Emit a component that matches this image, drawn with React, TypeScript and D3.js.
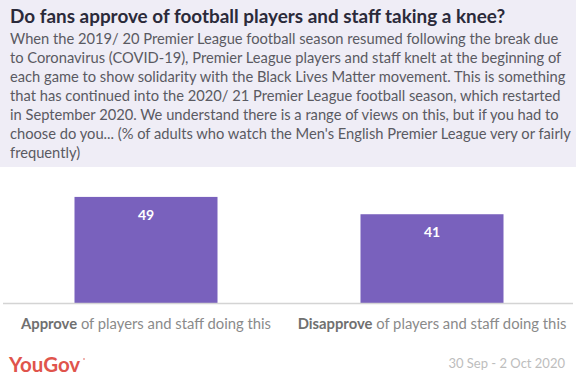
import React from "react";
import * as d3 from "d3";

const categories = ["Approve", "Disapprove"];
const categorySuffix = [" of players and staff doing this", " of players and staff doing this"];
const values = [49, 41];
const titleText = "Do fans approve of football players and staff taking a knee?";
const bodyLines = [
  "When the 2019/ 20 Premier League football season resumed following the break due",
  "to Coronavirus (COVID-19), Premier League players and staff knelt at the beginning of",
  "each game to show solidarity with the Black Lives Matter movement. This is something",
  "that has continued into the 2020/ 21 Premier League football season, which restarted",
  "in September 2020. We understand there is a range of views on this, but if you had to",
  "choose do you... (% of adults who watch the Men's English Premier League very or fairly",
  "frequently)",
];
const dateText = "30 Sep - 2 Oct 2020";

const W = 576;
const H = 381;
const FONT = "Lato, 'Open Sans', sans-serif";

export default function App() {
  const x = d3.scaleBand<string>().domain(categories).range([3, 575]).paddingInner(0.5).paddingOuter(0.25);
  const y = d3.scaleLinear().domain([0, 60]).range([303, 173.1]);

  return (
    <svg width={W} height={H} style={{ position: "absolute", left: 0, top: 0, display: "block" }} fontFamily={FONT}>
      <rect x={0} y={0} width={W} height={H} fill="#ffffff" />
      <rect x={0} y={0} width={W} height={167} fill="#efedf6" />
      <text x={10} y={23} fontSize={18.9} fontWeight={700} fill="#2b2a3a">{titleText}</text>
      {bodyLines.map((l, i) => (
        <text key={i} x={10} y={44 + i * 19} fontSize={14.7} fill="#5a5a62">{l}</text>
      ))}
      {categories.map((c, i) => (
        <g key={c}>
          <rect x={x(c)} y={y(values[i])} width={x.bandwidth()} height={y(0) - y(values[i])} fill="#7961bd" />
          <text x={x(c)! + x.bandwidth() / 2} y={y(values[i]) + 23} textAnchor="middle" fontSize={14} fontWeight={700} fill="#ffffff">{values[i]}</text>
          <text x={x(c)! + x.bandwidth() / 2} y={329} textAnchor="middle" fontSize={14.8} fill="#8a8a8a">
            <tspan fontWeight={700} fill="#707070">{c}</tspan>
            <tspan>{categorySuffix[i]}</tspan>
          </text>
        </g>
      ))}
      <line x1={3} x2={573} y1={y(0) + 0.5} y2={y(0) + 0.5} stroke="#d4d4d4" strokeWidth={1.5} />
      <text x={9} y={372} fontSize={20.5} fontWeight={700} fill="#e0544c">YouGov</text>
      <circle cx={84} cy={359} r={0.8} fill="#e0544c" />
      <text x={565} y={368} textAnchor="end" fontSize={13} fill="#bdbdbd">{dateText}</text>
    </svg>
  );
}
